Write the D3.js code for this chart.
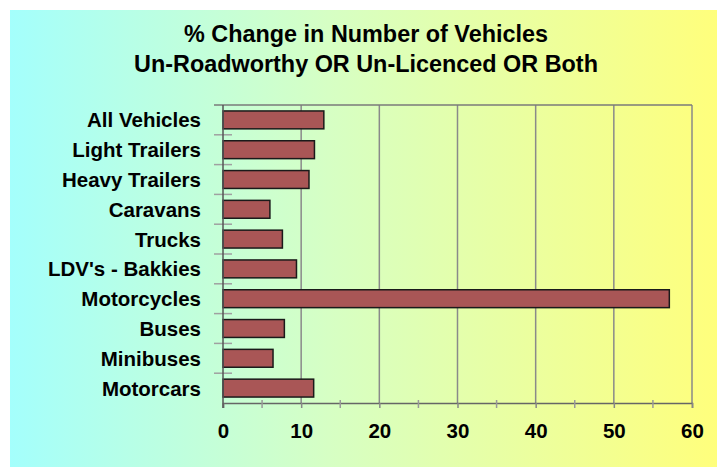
<!DOCTYPE html>
<html>
<head>
<meta charset="utf-8">
<script src="https://cdn.jsdelivr.net/npm/d3@7"></script>
<style>
  html, body { margin: 0; padding: 0; background: #fff; }
  svg { display: block; font-family: Arial, "Liberation Sans", sans-serif; }
</style>
</head>
<body>
<svg id="chart" width="717" height="467"></svg>
<script>
const titleLines = ["% Change in Number of Vehicles", "Un-Roadworthy OR Un-Licenced OR Both"];
const categories = ["All Vehicles", "Light Trailers", "Heavy Trailers", "Caravans", "Trucks",
  "LDV's - Bakkies", "Motorcycles", "Buses", "Minibuses", "Motorcars"];
const values = [12.9, 11.7, 11.0, 6.0, 7.6, 9.4, 57.1, 7.85, 6.4, 11.6];
const xTicks = [0, 10, 20, 30, 40, 50, 60];
const xMinorTicks = [5, 15, 25, 35, 45, 55];

const svg = d3.select("#chart");
const W = 717, H = 467;
const plot = { left: 223, right: 692, top: 105, bottom: 403 };

const defs = svg.append("defs");
const grad = defs.append("linearGradient").attr("id", "bg").attr("x1", "0").attr("x2", "1").attr("y1", "0").attr("y2", "0");
grad.append("stop").attr("offset", "0").attr("stop-color", "#a4fffc");
grad.append("stop").attr("offset", "0.45").attr("stop-color", "#d6ffc4");
grad.append("stop").attr("offset", "1").attr("stop-color", "#ffff7c");

svg.append("rect").attr("x", 10).attr("y", 10).attr("width", W - 10).attr("height", H - 10).attr("fill", "url(#bg)");

svg.append("g").selectAll("text").data(titleLines).join("text")
  .attr("x", 366).attr("y", (d, i) => 42 + i * 30)
  .attr("text-anchor", "middle").attr("font-size", 23.4).attr("font-weight", "bold").attr("fill", "#000")
  .text(d => d);

const x = d3.scaleLinear().domain([0, 60]).range([plot.left, plot.right]);
const y = d3.scaleBand().domain(categories).range([plot.top, plot.bottom]).paddingInner(0.4).paddingOuter(0.2);

// gridlines
svg.append("g").selectAll("line").data(xTicks.slice(1)).join("line")
  .attr("x1", d => x(d)).attr("x2", d => x(d)).attr("y1", plot.top).attr("y2", plot.bottom)
  .attr("stroke", "#8a8a8a").attr("stroke-width", 1.5);

// top border
svg.append("line").attr("x1", plot.left - 9).attr("x2", plot.right).attr("y1", plot.top).attr("y2", plot.top)
  .attr("stroke", "#7a7a7a").attr("stroke-width", 1.5);

// y category boundary ticks
const step = y.step();
const boundaries = categories.slice(1).map(c => y(c) - y.paddingInner() * step / 2);
svg.append("g").selectAll("line").data(boundaries).join("line")
  .attr("x1", plot.left - 9).attr("x2", plot.left + 9).attr("y1", d => d).attr("y2", d => d)
  .attr("stroke", "#a0a0a0").attr("stroke-width", 1.5);

// x axis
const xAxis = d3.axisBottom(x).tickValues(xTicks).tickSize(5).tickFormat(d3.format("d"));
const gx = svg.append("g").attr("transform", `translate(0,${plot.bottom})`).call(xAxis);
gx.select(".domain").attr("stroke", "#666").attr("stroke-width", 1.5);
gx.selectAll(".tick line").attr("stroke", "#888").attr("stroke-width", 1.5);
gx.selectAll(".tick text").attr("font-size", 20.5).attr("font-weight", "bold").attr("fill", "#000")
  .attr("font-family", "Arial, 'Liberation Sans', sans-serif").attr("dy", null).attr("y", 35);
gx.append("g").selectAll("line").data(xMinorTicks).join("line")
  .attr("x1", d => x(d)).attr("x2", d => x(d)).attr("y1", -3).attr("y2", 5)
  .attr("stroke", "#999").attr("stroke-width", 1.5);

// bars
svg.append("g").selectAll("rect").data(values).join("rect")
  .attr("x", x(0)).attr("y", (d, i) => y(categories[i]))
  .attr("width", d => x(d) - x(0)).attr("height", y.bandwidth())
  .attr("fill", "#a95656").attr("stroke", "#1a1a1a").attr("stroke-width", 1.5);

// y axis line
svg.append("line").attr("x1", plot.left).attr("x2", plot.left).attr("y1", plot.top).attr("y2", plot.bottom + 5)
  .attr("stroke", "#555").attr("stroke-width", 1.5);

// category labels
svg.append("g").selectAll("text").data(categories).join("text")
  .attr("x", 201).attr("y", d => y(d) + y.bandwidth() / 2 + 7.5)
  .attr("text-anchor", "end").attr("font-size", 20.5).attr("font-weight", "bold").attr("fill", "#000")
  .text(d => d);
</script>
</body>
</html>
